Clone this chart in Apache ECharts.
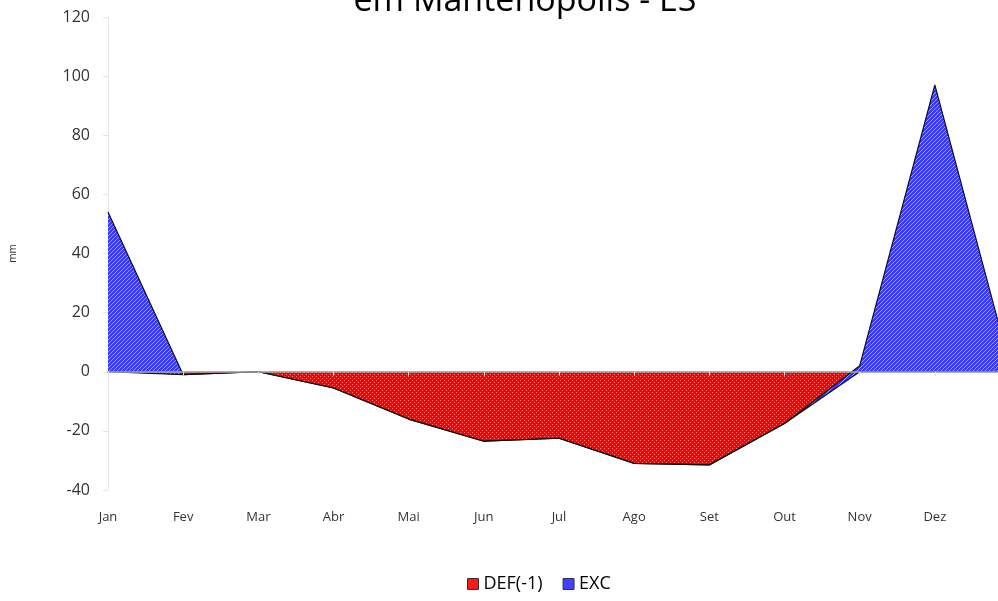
<!DOCTYPE html>
<html><head><meta charset="utf-8">
<script src="https://cdn.jsdelivr.net/npm/echarts@6/dist/echarts.min.js"></script>
<style>html,body{margin:0;padding:0;background:#fff}#c{width:998px;height:601px}</style>
</head><body><div id="c"></div>
<script>
const categories = ['Jan','Fev','Mar','Abr','Mai','Jun','Jul','Ago','Set','Out','Nov','Dez',''];
const defValues = [0, -1, 0, -5.5, -16, -23.5, -22.5, -31, -31.5, -17.5, 0, 0, 0];
const excValues = [54, 0, 0, 0, 0, 0, 0, 0, 0, 0, 2, 97, 2];
const yTicks = {min: -40, max: 120, interval: 20};

function pattern(base, fg, type) {
  const c = document.createElement('canvas');
  c.width = 4; c.height = 4;
  const g = c.getContext('2d');
  g.fillStyle = base; g.fillRect(0, 0, 4, 4);
  g.fillStyle = fg;
  if (type === 'diag') { for (let i = 0; i < 4; i++) g.fillRect(i, 3 - i, 1, 1); }
  else { g.fillRect(0, 0, 1, 1); g.fillRect(2, 2, 1, 1); }
  return c;
}
const redPat = {image: pattern('#ff0000', '#ff7a7a', 'dot'), repeat: 'repeat'};
const bluePat = {image: pattern('#3a3aff', '#9c9cff', 'diag'), repeat: 'repeat'};

const chart = echarts.init(document.getElementById('c'), null, {renderer: 'canvas'});
chart.setOption({
  animation: false,
  title: {
    text: 'em Mantenópolis - ES', left: 520, top: -21, textAlign: 'center',
    textStyle: {fontFamily: 'Open Sans', fontSize: 34, fontWeight: 'normal', color: '#000'}
  },
  legend: {
    bottom: 3, left: 462, itemWidth: 11, itemHeight: 11, itemGap: 20,
    icon: 'rect',
    textStyle: {fontFamily: 'Open Sans', fontSize: 18, color: '#000'},
    data: [
      {name: 'DEF(-1)', itemStyle: {color: '#ff1a1a', borderColor: '#333', borderWidth: 1}},
      {name: 'EXC', itemStyle: {color: '#4040ff', borderColor: '#333', borderWidth: 1}}
    ]
  },
  grid: {left: 108, right: -12, top: 17, bottom: 111, outerBoundsMode: 'none', containLabel: false},
  xAxis: [{
    type: 'category', data: categories, boundaryGap: false,
    axisLine: {show: false, onZero: false}, axisTick: {show: false},
    axisLabel: {margin: 21, fontFamily: 'Open Sans', fontSize: 13, color: '#333'}
  }, {
    type: 'category', data: categories, boundaryGap: false, position: 'bottom', z: 5,
    axisLine: {show: true, onZero: true, lineStyle: {color: '#a6a6a6', width: 1.5}},
    axisTick: {show: true, length: 4, lineStyle: {color: '#e0e0e0'}},
    axisLabel: {show: false}
  }],
  yAxis: {
    type: 'value', min: yTicks.min, max: yTicks.max, interval: yTicks.interval,
    name: 'mm', nameLocation: 'middle', nameGap: 90, nameRotate: 90,
    nameTextStyle: {fontFamily: 'Open Sans', fontSize: 10, color: '#333'},
    axisLine: {show: true, lineStyle: {color: '#e6e6e6'}},
    axisTick: {show: true, length: 5, lineStyle: {color: '#e6e6e6'}},
    splitLine: {show: false},
    axisLabel: {margin: 18, fontFamily: 'Open Sans', fontSize: 16, color: '#333'}
  },
  series: [{
    name: 'DEF(-1)', type: 'line', data: defValues, stack: 'bh', stackStrategy: 'all',
    showSymbol: false, symbol: 'none',
    lineStyle: {color: '#111', width: 1.2},
    itemStyle: {color: '#ff1a1a'},
    areaStyle: {color: redPat, opacity: 1}
  }, {
    name: 'EXC', type: 'line', data: excValues, stack: 'bh', stackStrategy: 'all',
    showSymbol: false, symbol: 'none',
    lineStyle: {color: '#111', width: 1.2},
    itemStyle: {color: '#4040ff'},
    areaStyle: {color: bluePat, opacity: 1}
  }]
});
</script></body></html>
